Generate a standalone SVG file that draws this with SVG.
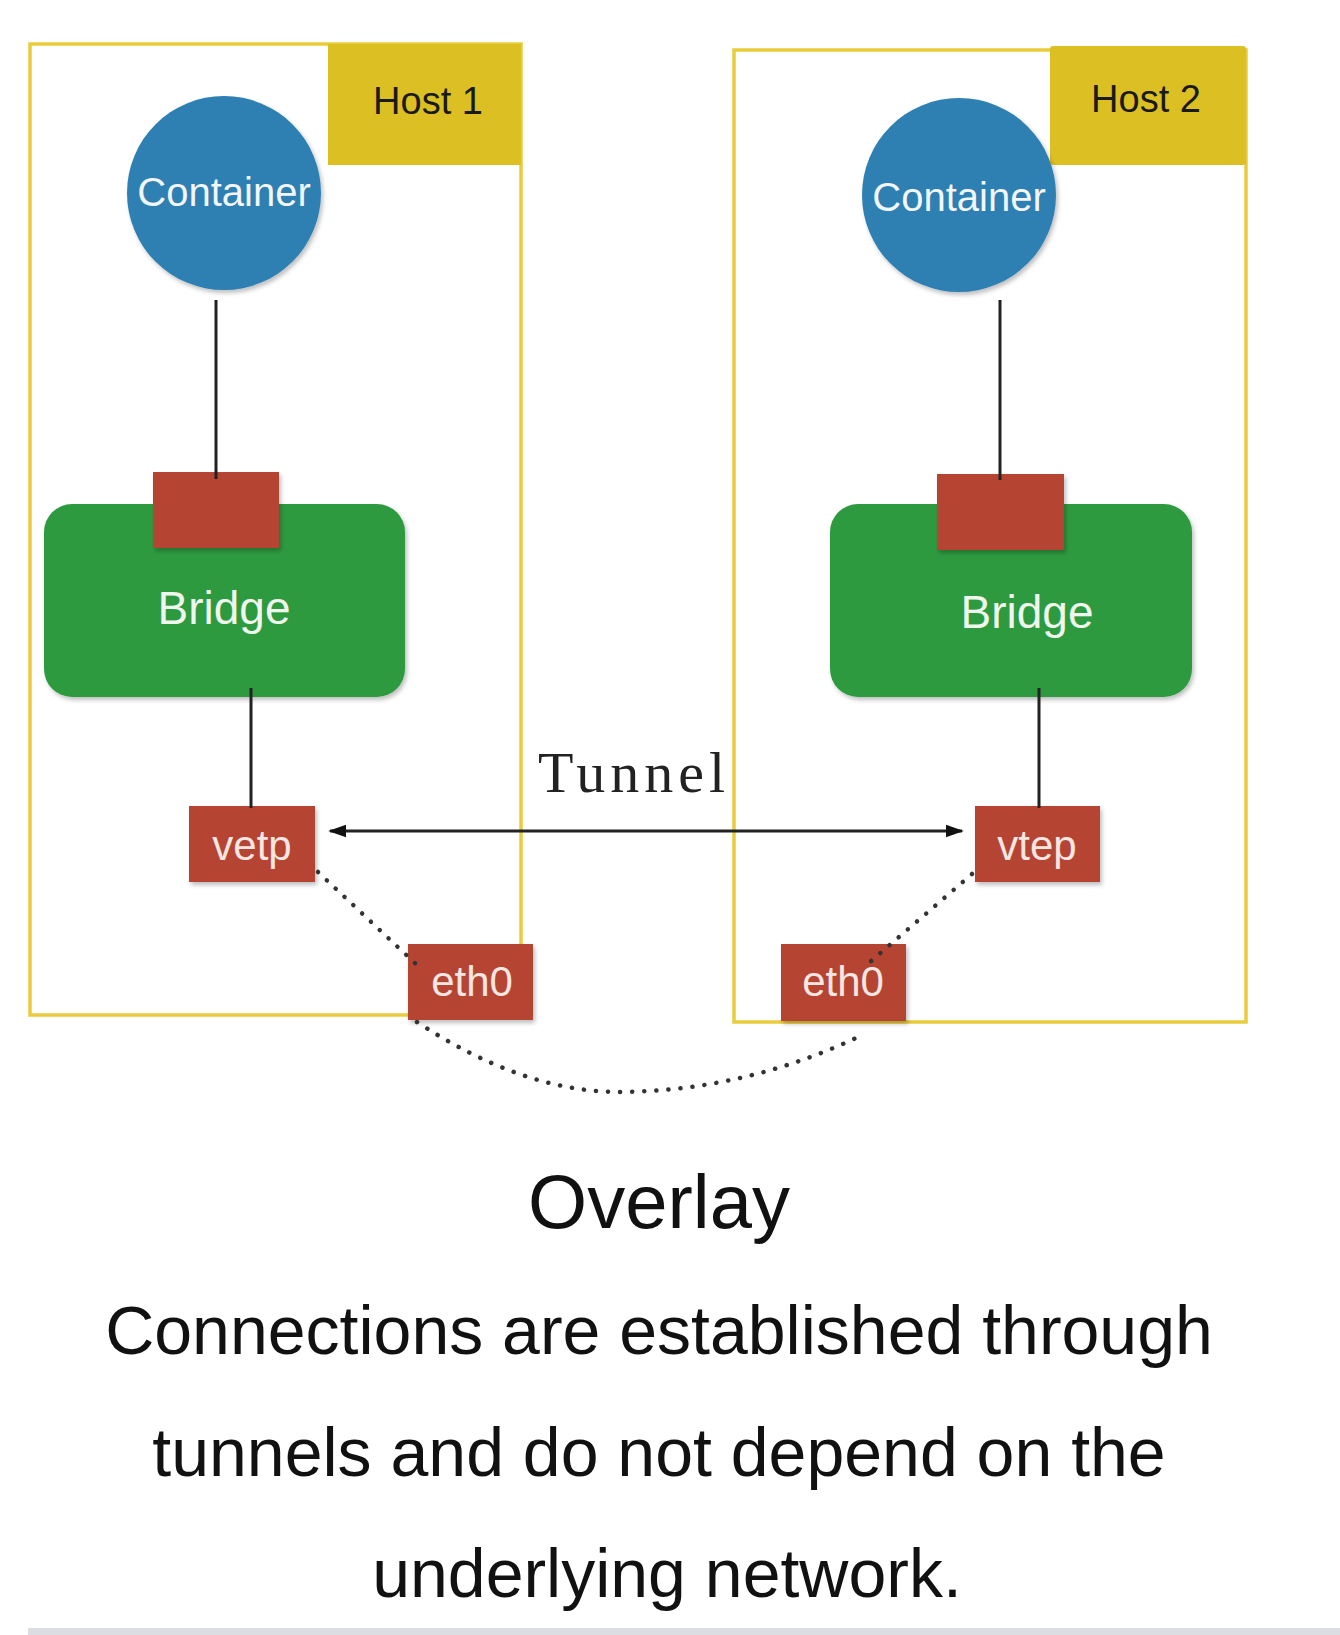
<svg xmlns="http://www.w3.org/2000/svg" width="1340" height="1635" viewBox="0 0 1340 1635">
<defs>
<style>
.host{fill:none;stroke:#EACB3C;stroke-width:3.5}
.hlabel{fill:#DCBF22}
.htext{font-family:"Liberation Sans",Arial,sans-serif;font-size:38px;fill:#1a1a1a;text-anchor:middle}
.cont{fill:#2F7FB2;filter:url(#sh)}
.ctext{font-family:"Liberation Sans",Arial,sans-serif;font-size:40px;fill:#f2f6f8;text-anchor:middle}
.bridge{fill:#2E9A40;filter:url(#sh)}
.btext{font-family:"Liberation Sans",Arial,sans-serif;font-size:46px;fill:#eef6ee;text-anchor:middle}
.port{fill:#B54433;filter:url(#sh)}
.ptext{font-family:"Liberation Sans",Arial,sans-serif;font-size:42px;fill:#f4e6e2;text-anchor:middle}
.link{stroke:#222;stroke-width:3;fill:none}
.dot{stroke:#333;stroke-width:4.5;fill:none;stroke-dasharray:0.1 12;stroke-linecap:round}
.cap{font-family:"Liberation Sans",Arial,sans-serif;fill:#111;text-anchor:middle}
</style>
<filter id="sh" x="-10%" y="-10%" width="130%" height="130%">
<feDropShadow dx="2" dy="3" stdDeviation="2" flood-color="#000" flood-opacity="0.25"/>
</filter>
<marker id="ah" viewBox="0 0 10 10" refX="9" refY="5" markerWidth="6" markerHeight="6" orient="auto-start-reverse" markerUnits="strokeWidth">
<path d="M0,1.5 L10,5 L0,8.5 z" fill="#111"/>
</marker>
</defs>
<rect width="1340" height="1635" fill="#fff"/>

<g id="host1">
<rect class="host" x="30" y="44" width="491" height="971"/>
<rect class="hlabel" x="328" y="44" width="193" height="121"/>
<text class="htext" x="428" y="114">Host 1</text>
</g>
<g id="host2">
<rect class="host" x="734" y="50" width="512" height="972"/>
<rect class="hlabel" x="1050" y="46" width="196" height="119" rx="3"/>
<text class="htext" x="1146" y="112">Host 2</text>
</g>

<g id="container1">
<circle class="cont" cx="224" cy="193" r="97"/>
<text class="ctext" x="224" y="206">Container</text>
</g>
<g id="container2">
<circle class="cont" cx="959" cy="195" r="97"/>
<text class="ctext" x="959" y="211">Container</text>
</g>

<g id="bridge1">
<rect class="bridge" x="44" y="504" width="361" height="193" rx="28"/>
<rect class="port" x="153" y="472" width="126" height="76"/>
<text class="btext" x="224" y="624">Bridge</text>
</g>
<g id="bridge2">
<rect class="bridge" x="830" y="504" width="362" height="193" rx="28"/>
<rect class="port" x="937" y="474" width="127" height="76"/>
<text class="btext" x="1027" y="628">Bridge</text>
</g>

<g id="vetp">
<rect class="port" x="189" y="806" width="126" height="76"/>
<text class="ptext" x="252" y="860">vetp</text>
</g>
<g id="vtep">
<rect class="port" x="975" y="806" width="125" height="76"/>
<text class="ptext" x="1037" y="860">vtep</text>
</g>
<g id="eth0-1">
<rect class="port" x="408" y="944" width="125" height="76"/>
<text class="ptext" x="472" y="996">eth0</text>
</g>
<g id="eth0-2">
<rect class="port" x="781" y="944" width="125" height="77"/>
<text class="ptext" x="843" y="996">eth0</text>
</g>

<g id="connectors">
<line class="link" x1="216" y1="300" x2="216" y2="479"/>
<line class="link" x1="251" y1="688" x2="251" y2="808"/>
<line class="link" x1="1000" y1="300" x2="1000" y2="480"/>
<line class="link" x1="1039" y1="688" x2="1039" y2="808"/>
<line class="link" x1="330" y1="831" x2="962" y2="831" stroke-width="2.5" marker-start="url(#ah)" marker-end="url(#ah)"/>
<path class="dot" d="M318,872 L418,966"/>
<path class="dot" d="M417,1022 Q520,1090 615,1092 Q740,1092 856,1038"/>
<path class="dot" d="M972,874 L870,962"/>
</g>

<text x="634" y="792" font-family="'Liberation Serif','Times New Roman',serif" font-size="58" letter-spacing="5" fill="#222" text-anchor="middle">Tunnel</text>

<text class="cap" x="659" y="1228" font-size="76">Overlay</text>
<text class="cap" x="659" y="1354" font-size="68">Connections are established through</text>
<text class="cap" x="659" y="1476" font-size="68">tunnels and do not depend on the</text>
<text class="cap" x="667" y="1597" font-size="68">underlying network.</text>
<rect x="28" y="1628" width="1312" height="7" fill="#dcdde2"/>
</svg>
